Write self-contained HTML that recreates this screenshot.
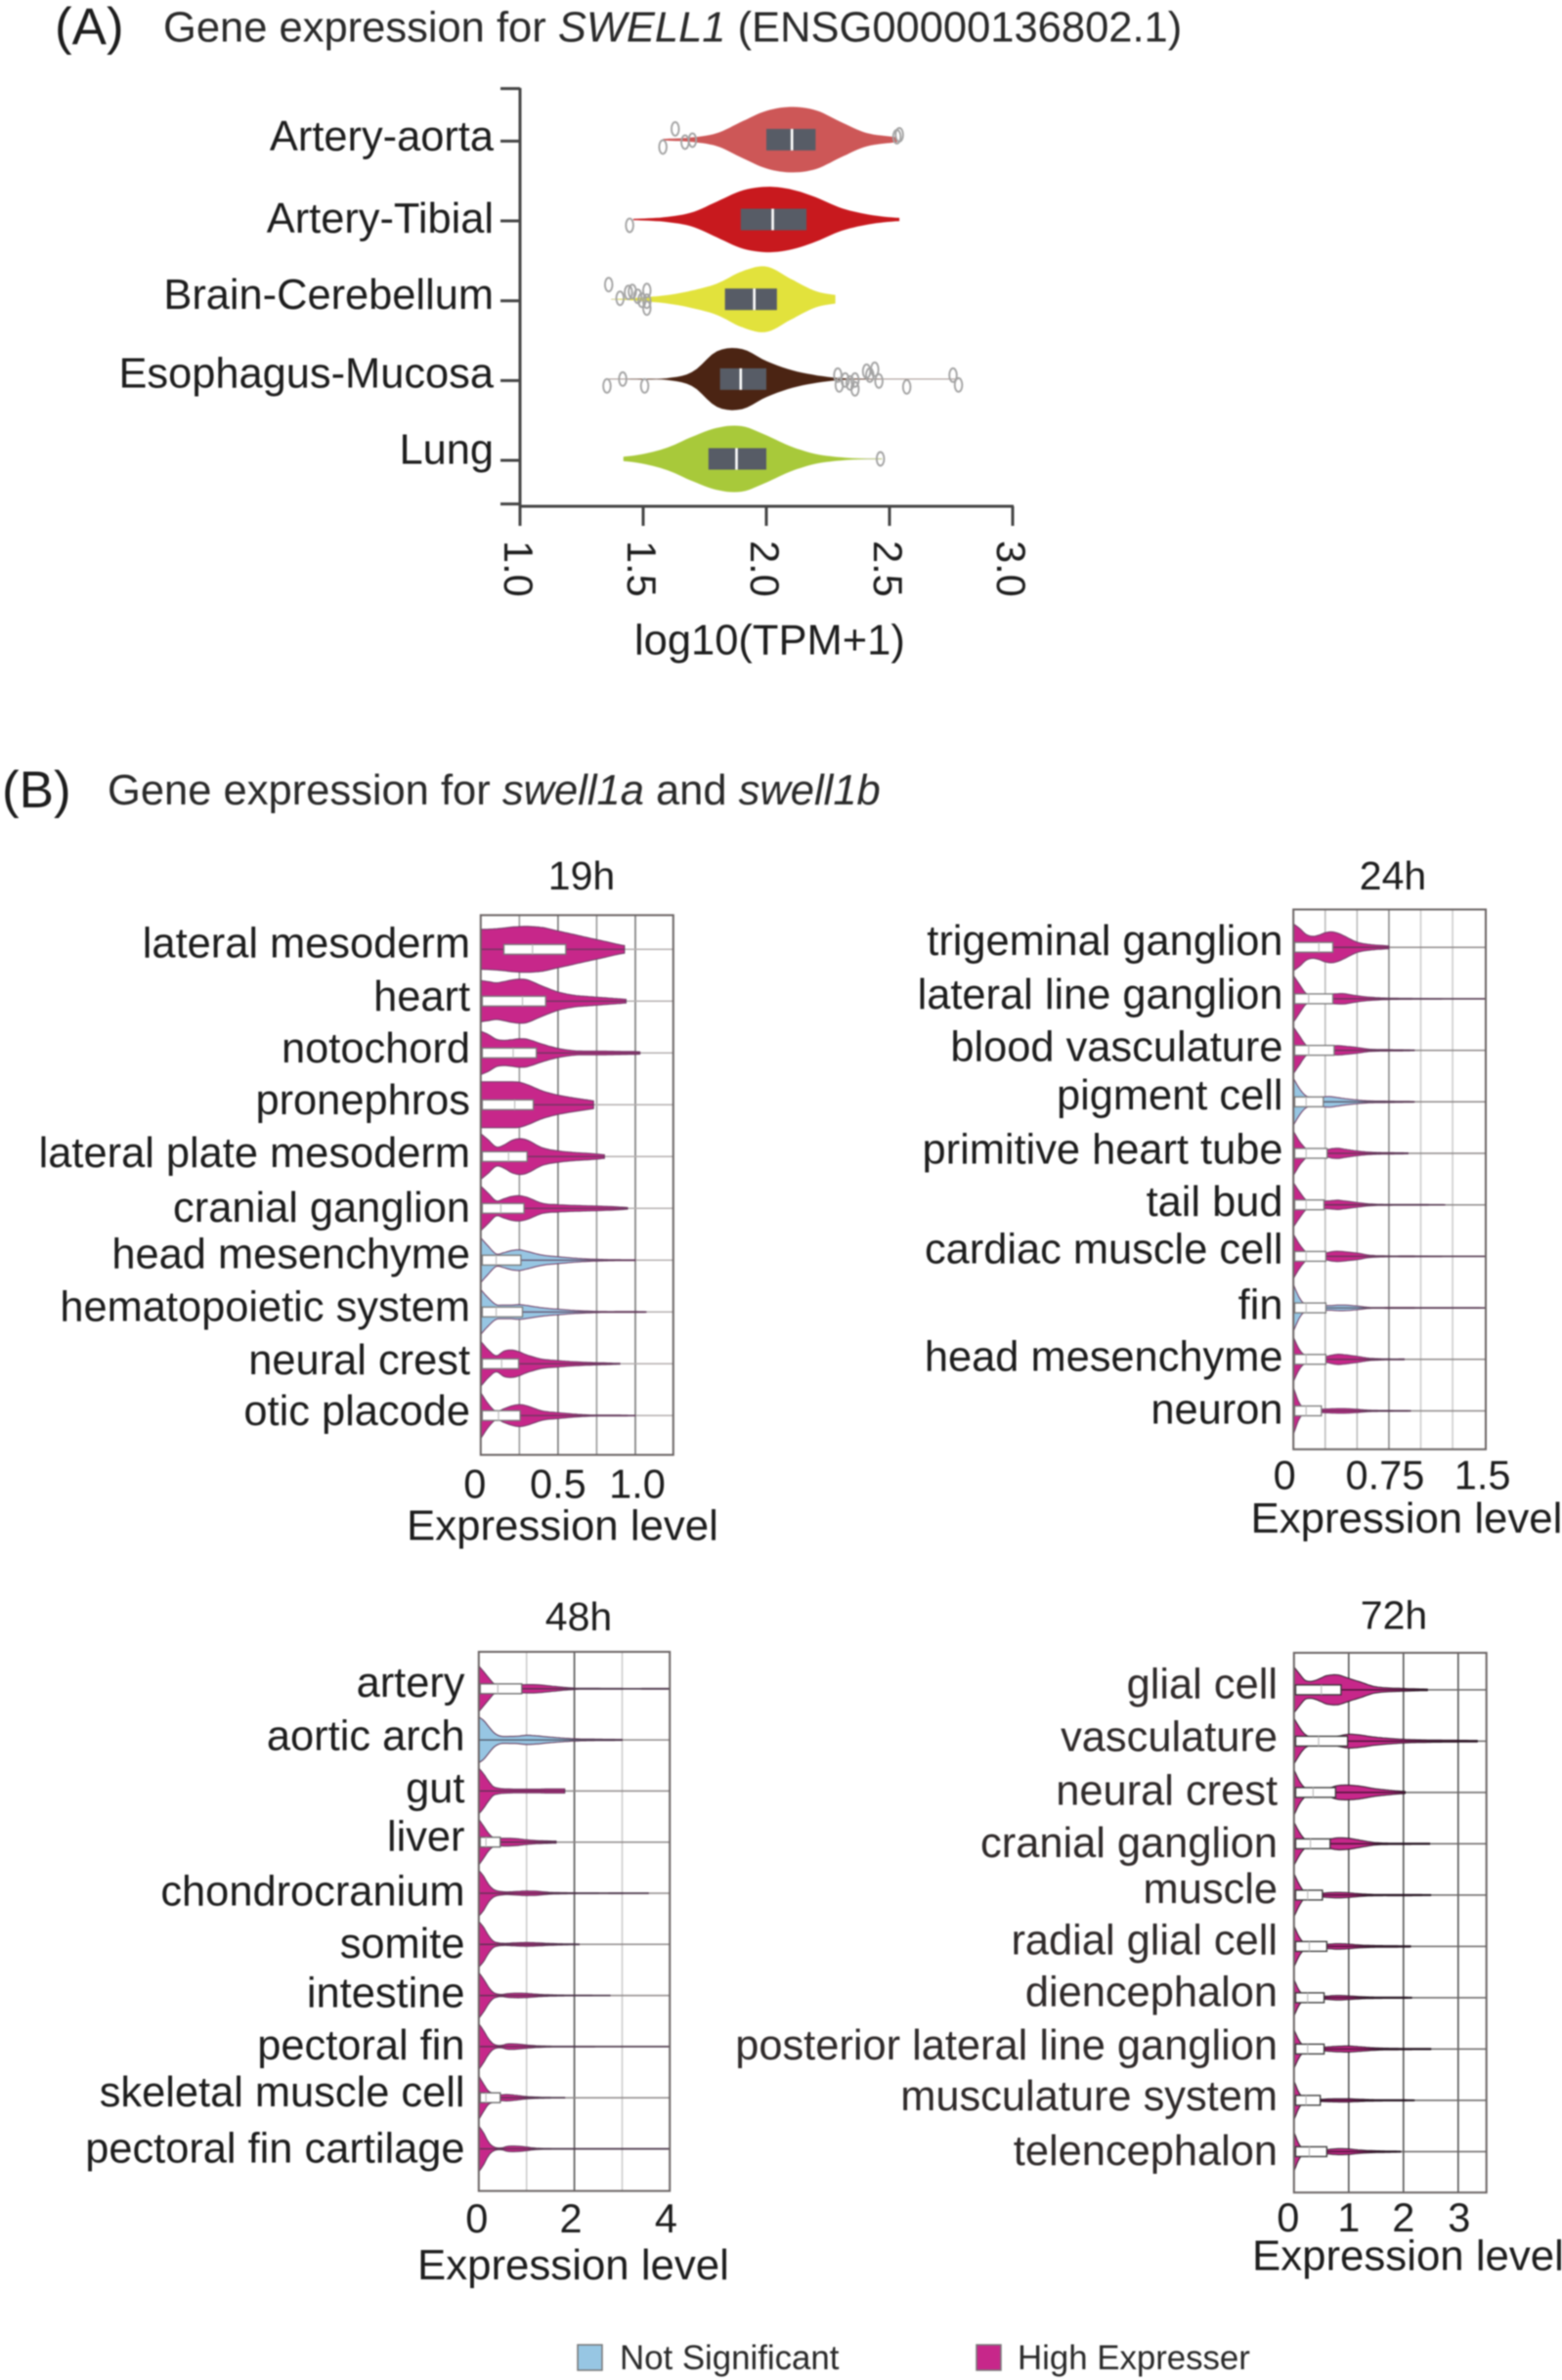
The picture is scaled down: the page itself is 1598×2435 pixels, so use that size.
<!DOCTYPE html>
<html lang="en">
<head>
<meta charset="utf-8">
<title>Gene expression for SWELL1, swell1a and swell1b</title>
<style>
html,body{margin:0;padding:0;background:#fff;}
svg{display:block;filter:blur(.7px);}
text{font-family:"Liberation Sans",sans-serif;fill:#1d1d1d;}
.head{font-size:43.5px;fill:#2a2a2a;}
.letter{font-size:53px;fill:#1d1d1d;}
.legend{font-size:34.8px;fill:#2a2a2a;}
</style>
</head>
<body>
<svg id="figure" xmlns="http://www.w3.org/2000/svg" width="1598" height="2435" viewBox="0 0 1598 2435">
  <rect width="1598" height="2435" fill="#fff"/>
  <text class="letter" x="56" y="45">(A)</text>
  <text class="head" x="167" y="42.5">Gene expression for <tspan font-style="italic">SWELL1</tspan> (ENSG00000136802.1)</text>
  <text class="letter" x="2" y="826">(B)</text>
  <text class="head" x="110" y="823">Gene expression for <tspan font-style="italic">swell1a</tspan> and <tspan font-style="italic">swell1b</tspan></text>
  <g id="panelA"></g>
  <g id="panel19"></g>
  <g id="panel24"></g>
  <g id="panel48"></g>
  <g id="panel72"></g>
  <g>
    <rect x="591" y="2399" width="25" height="26" fill="#97c6e3" stroke="#777" stroke-width="1.5"/>
    <text class="legend" x="634" y="2424">Not Significant</text>
    <rect x="999" y="2399" width="25" height="26" fill="#c7278a" stroke="#777" stroke-width="1.5"/>
    <text class="legend" x="1041" y="2424">High Expresser</text>
  </g>
</svg>
<script>
/* ---------- Panel A data ---------- */
const aTissues = ["Artery-aorta","Artery-Tibial","Brain-Cerebellum","Esophagus-Mucosa","Lung"];
const aLevels = [1.3,1.4,1.5,1.6,1.7,1.8,1.9,2.0,2.1,2.2,2.3,2.4,2.5,2.6,2.7,2.8];
const aDensityAorta = [0,0,.01,.03,.07,.2,.55,.88,1,.9,.55,.22,.1,.05,0,0];
const aDensityTibial = [0,.01,.03,.08,.22,.55,.88,1,.92,.68,.36,.17,.07,.03,0,0];
const aDensityBrain = [.01,.01,.06,.13,.27,.48,.85,1,.62,.25,.11,.03,0,0,0,0];
const aDensityEsophagus = [.005,.005,.01,.03,.22,.85,.92,.55,.28,.12,.03,.01,.005,.005,.005,.005];
const aDensityLung = [0,.05,.15,.35,.68,.95,1,.72,.38,.15,.05,.01,.005,0,0,0];
const aMin = [1.58,1.46,1.37,1.35,1.42];
const aMax = [2.53,2.54,2.28,2.78,2.47];
const aQ1 = [2.0,1.896,1.832,1.812,1.765];
const aMedian = [2.104,2.026,1.951,1.896,1.879];
const aQ3 = [2.2,2.163,2.043,2.0,2.0];
const aTicks = [1.0,1.5,2.0,2.5,3.0];
const aTickLabels = ["1.0","1.5","2.0","2.5","3.0"];
const aOutAorta = [1.63,1.58,1.67,1.70,2.53,2.54];
const aOutTibial = [1.445];
const aOutBrain = [1.36,1.406,1.44,1.456,1.478,1.495,1.515,1.515,1.515];
const aOutEsophagus = [1.353,1.417,1.506,2.29,2.296,2.32,2.34,2.36,2.36,2.407,2.42,2.44,2.457,2.57,2.758,2.78];
const aOutLung = [2.463];

/* ---------- 19h data ---------- */
const cats19 = ["lateral mesoderm","heart","notochord","pronephros","lateral plate mesoderm","cranial ganglion","head mesenchyme","hematopoietic system","neural crest","otic placode"];
const status19 = ["high","high","high","high","high","high","ns","ns","high","high"];
const levels19 = [0,.05,.1,.15,.2,.25,.3,.4,.5,.6,.7,.8,.9,1.0,1.1];
const density19 = [
 [.87,.88,.9,.93,.97,.99,1,.95,.8,.65,.5,.35,.2,.1,0],
 [.9,.85,.8,.85,.92,.96,.93,.65,.4,.26,.2,.15,.1,.05,0],
 [.95,.8,.6,.55,.58,.62,.6,.38,.2,.1,.08,.08,.07,.06,.03],
 [1,1,1,1,1,.98,.88,.6,.42,.3,.2,.1,0,0,0],
 [1,.72,.42,.5,.7,.78,.72,.38,.25,.18,.14,.08,.02,.01,0],
 [.98,.65,.33,.42,.52,.55,.48,.22,.16,.13,.11,.09,.06,.01,0],
 [.98,.6,.27,.33,.42,.45,.38,.22,.15,.09,.05,.03,.02,.015,.01],
 [.98,.6,.32,.3,.3,.32,.28,.18,.12,.07,.04,.02,.02,.02,.01],
 [.98,.6,.35,.55,.6,.52,.38,.2,.14,.09,.06,.04,.02,.01,0],
 [1,.5,.18,.3,.42,.48,.42,.2,.13,.07,.03,.02,.02,.01,.01]
];
const max19 = [.93,.94,1.03,.73,.8,.95,1.0,1.07,.9,1.0];
const q1_19 = [.15,.01,.01,.01,.01,.01,.01,.01,.01,.01];
const med19 = [.335,.27,.21,.22,.18,.13,.1,.1,.135,.115];
const q3_19 = [.55,.42,.36,.34,.30,.28,.26,.27,.245,.255];
const ticks19 = [0,.5,1.0];
const tickLabels19 = ["0","0.5","1.0"];
const grid19 = [.25,.5,.75,1.0];

/* ---------- 24h data ---------- */
const cats24 = ["trigeminal ganglion","lateral line ganglion","blood vasculature","pigment cell","primitive heart tube","tail bud","cardiac muscle cell","fin","head mesenchyme","neuron"];
const status24 = ["high","high","high","ns","high","high","high","ns","high","high"];
const levels24 = [0,.05,.1,.15,.2,.25,.3,.35,.4,.5,.6,.75,.9,1.05,1.2,1.5];
const density24 = [
 [1,.8,.55,.47,.52,.62,.66,.6,.48,.22,.12,.06,0,0,0,0],
 [1,.6,.22,.14,.14,.16,.2,.22,.22,.13,.07,.03,.02,.015,.01,.01],
 [1,.6,.22,.12,.12,.14,.18,.2,.18,.12,.05,.03,.02,0,0,0],
 [1,.55,.25,.2,.2,.22,.22,.18,.14,.08,.04,.03,.02,0,0,0],
 [.95,.5,.2,.12,.12,.14,.2,.22,.18,.1,.05,.03,.02,0,0,0],
 [.95,.55,.2,.12,.13,.16,.18,.2,.17,.1,.04,.02,.015,.015,.01,0],
 [.95,.5,.18,.12,.12,.14,.2,.22,.2,.14,.05,.02,.02,.015,.01,.01],
 [1,.4,.12,.1,.1,.1,.1,.12,.12,.08,.02,.02,.02,.015,.015,.01],
 [.95,.4,.15,.1,.1,.12,.18,.22,.2,.13,.05,.02,.02,.01,0,0],
 [1,.3,.08,.06,.07,.08,.09,.1,.1,.07,.03,.02,.015,0,0,0]
];
const max24 = [.75,1.5,.95,.95,.9,1.19,1.5,1.5,.87,.92];
const q1_24 = [.01,.01,.01,.01,.01,.01,.01,.01,.01,.01];
const med24 = [.2,.12,.12,.1,.1,.1,.1,.1,.1,.1];
const q3_24 = [.31,.31,.32,.235,.265,.24,.255,.255,.255,.22];
const ticks24 = [0,.75,1.5];
const tickLabels24 = ["0","0.75","1.5"];
const grid24 = [.25,.5,.75,1.0,1.25];

/* ---------- 48h data ---------- */
const cats48 = ["artery","aortic arch","gut","liver","chondrocranium","somite","intestine","pectoral fin","skeletal muscle cell","pectoral fin cartilage"];
const status48 = ["high","ns","high","high","high","high","high","high","high","high"];
const levels48 = [0,.1,.2,.3,.4,.5,.6,.8,1,1.2,1.5,2,2.5,3,3.5,4];
const density48 = [
 [1,.75,.5,.25,.12,.12,.15,.17,.18,.18,.12,.03,.02,.015,.015,.015],
 [1,.85,.6,.35,.2,.15,.15,.16,.2,.18,.12,.05,.03,.02,0,0],
 [1,.75,.45,.2,.13,.1,.09,.08,.08,.08,.09,.08,0,0,0,0],
 [1,.7,.4,.2,.15,.17,.17,.15,.1,.07,.05,.03,0,0,0,0],
 [1,.75,.4,.18,.1,.07,.06,.08,.1,.09,.04,.02,.015,.015,.01,.01],
 [1,.75,.4,.15,.07,.05,.05,.07,.08,.07,.04,.02,.015,0,0,0],
 [1,.72,.38,.14,.06,.05,.08,.1,.09,.06,.03,.015,.01,.01,0,0],
 [1,.7,.35,.12,.05,.06,.12,.11,.07,.04,.02,.015,.01,.01,.01,.01],
 [.95,.6,.3,.2,.12,.13,.14,.1,.05,.03,.015,.01,0,0,0,0],
 [1,.7,.3,.1,.04,.05,.11,.12,.08,.03,.015,.01,.01,.01,.01,.01]
];
const max48 = [4,3.0,1.8,1.62,3.55,2.1,2.75,4,1.8,4];
const q1_48 = [.03,null,null,.03,null,null,null,null,.03,null];
const med48 = [.4,null,null,.15,null,null,null,null,.15,null];
const q3_48 = [.9,null,null,.45,null,null,null,null,.45,null];
const ticks48 = [0,2,4];
const tickLabels48 = ["0","2","4"];
const grid48 = [1,2,3];

/* ---------- 72h data ---------- */
const cats72 = ["glial cell","vasculature","neural crest","cranial ganglion","muscle","radial glial cell","diencephalon","posterior lateral line ganglion","musculature system","telencephalon"];
const status72 = ["high","high","high","high","high","high","high","high","high","high"];
const levels72 = [0,.1,.2,.3,.4,.5,.6,.8,1,1.2,1.5,2,2.5,3,3.5];
const density72 = [
 [1,.7,.42,.37,.42,.52,.62,.65,.5,.35,.13,.06,.03,0,0],
 [1,.6,.3,.18,.12,.12,.14,.22,.3,.27,.17,.08,.05,.04,.03],
 [1,.5,.2,.1,.1,.12,.16,.3,.32,.28,.16,.05,.02,.01,.01],
 [.95,.5,.2,.1,.1,.12,.18,.26,.24,.16,.05,.03,.025,.01,.01],
 [.95,.45,.12,.08,.08,.08,.1,.12,.1,.06,.03,.03,.02,.01,.01],
 [.9,.4,.12,.08,.08,.08,.09,.12,.1,.06,.04,.03,.02,.01,.01],
 [.8,.3,.1,.06,.06,.06,.07,.1,.08,.05,.03,.025,.01,.01,.01],
 [.85,.35,.1,.06,.06,.07,.09,.12,.13,.1,.05,.03,.025,.01,.01],
 [.85,.3,.08,.05,.05,.05,.06,.07,.07,.05,.03,.025,.01,.01,.01],
 [.85,.3,.08,.05,.05,.06,.09,.13,.12,.07,.04,.02,.01,.01,.01]
];
const max72 = [2.44,3.35,2.03,2.48,2.5,2.13,2.15,2.5,2.2,1.95];
const q1_72 = [.03,.03,.03,.03,.03,.03,.03,.03,.03,.03];
const med72 = [.5,.45,.35,.3,.25,.28,.25,.25,.22,.28];
const q3_72 = [.86,.98,.76,.66,.52,.6,.55,.55,.48,.6];
const ticks72 = [0,1,2,3];
const tickLabels72 = ["0","1","2","3"];
const grid72 = [1,2,3];

/* ---------- Layout and style (not data) ---------- */
const SVGNS = "http://www.w3.org/2000/svg";
const MAGENTA = "#c7278a", BLUE = "#97c6e3";
const aFills = ["#cd5757","#c8191e","#e2e23c","#4b2413","#a8c93a"];
const aDensities = [aDensityAorta,aDensityTibial,aDensityBrain,aDensityEsophagus,aDensityLung];
const aOutliers = [aOutAorta,aOutTibial,aOutBrain,aOutEsophagus,aOutLung];
const aJitter = [[-11,7.5,2.5,.5,-3,-5],[6],[-15,-1,-7,-8,-3,1,-9,2,9],[7,0,7,-4,6,1,4,10,1,-8,-4,-10,2,8,-4,6],[0]];
const aLabelBase = [154,238,316,396.4,474.6];
const LABEL_SIZE = 43.4;

function mk(parent, tag, attrs, txt) {
  const el = document.createElementNS(SVGNS, tag);
  for (const k in attrs) el.setAttribute(k, attrs[k]);
  if (txt !== undefined) el.textContent = txt;
  parent.appendChild(el);
  return el;
}

/* cubic Hermite through the read density values */
function densityAt(levels, dens, v) {
  const n = levels.length;
  if (v <= levels[0]) return dens[0];
  if (v >= levels[n-1]) return dens[n-1];
  let i = 0;
  while (levels[i+1] < v) i++;
  const h = levels[i+1] - levels[i];
  const slope = j => {
    if (j <= 0) return (dens[1]-dens[0])/(levels[1]-levels[0]);
    if (j >= n-1) return (dens[n-1]-dens[n-2])/(levels[n-1]-levels[n-2]);
    return (dens[j+1]-dens[j-1])/(levels[j+1]-levels[j-1]);
  };
  const t = (v-levels[i])/h, t2 = t*t, t3 = t2*t;
  const d = (2*t3-3*t2+1)*dens[i] + (t3-2*t2+t)*h*slope(i) + (-2*t3+3*t2)*dens[i+1] + (t3-t2)*h*slope(i+1);
  return Math.max(0, d);
}

function violinPath(levels, dens, vmin, vmax, xScale, cy, halfMax) {
  const steps = 70, top = [], bottom = [];
  for (let s = 0; s <= steps; s++) {
    const v = vmin + (vmax-vmin)*s/steps;
    const w = densityAt(levels, dens, v)*halfMax;
    const x = xScale(v).toFixed(1);
    top.push(x+" "+(cy-w).toFixed(1));
    bottom.unshift(x+" "+(cy+w).toFixed(1));
  }
  return "M"+top.join("L")+"L"+bottom.join("L")+"Z";
}

/* ---------- Panel A ---------- */
(function () {
  const g = document.getElementById("panelA");
  const xA = v => 532 + (v-1)*252;
  const yA = i => 142.9 + 81.65*i;
  const yAxis = mk(g,"line",{x1:532,x2:532,y1:90,y2:519,stroke:"#444","stroke-width":3});
  
  
  const xAxis = mk(g,"line",{x1:531,x2:1037,y1:518,y2:518,stroke:"#444","stroke-width":3});
  
  
  [90.6,515.6].forEach(function (y) {
    const cap = mk(g,"line",{x1:512,x2:532,y1:y,y2:y,stroke:"#444","stroke-width":3});
    
    
  });
  aTicks.forEach(function (v,i) {
    const t = mk(g,"line",{x1:xA(v),x2:xA(v),y1:518,y2:538,stroke:"#444","stroke-width":3});
    
    
    const lab = mk(g,"text",{transform:"translate("+(xA(v)-16)+",553) rotate(90)","font-size":41.5},aTickLabels[i]);
    
    
  });
  const xt = mk(g,"text",{x:649,y:669.5,"font-size":43.5},"log10(TPM+1)");
  
  
  aTissues.forEach(function (name,i) {
    const cy = yA(i);
    const tick = mk(g,"line",{x1:512,x2:532,y1:cy+1.5,y2:cy+1.5,stroke:"#444","stroke-width":3});
    
    
    const lab = mk(g,"text",{x:505,y:aLabelBase[i],"text-anchor":"end","font-size":LABEL_SIZE},name);
    
    
    const tail = mk(g,"line",{x1:xA(aMin[i]),x2:xA(aMax[i]),y1:cy,y2:cy,stroke:"#cfc8c8","stroke-width":1.2});
    
    
    const vio = mk(g,"path",{d:violinPath(aLevels,aDensities[i],aMin[i],aMax[i],xA,cy,33.5),fill:aFills[i]});
    
    
    const box = mk(g,"rect",{x:xA(aQ1[i]),y:cy-11,width:xA(aQ3[i])-xA(aQ1[i]),height:22,fill:"#575c66"});
    
    
    const med = mk(g,"line",{x1:xA(aMedian[i]),x2:xA(aMedian[i]),y1:cy-11,y2:cy+11,stroke:"#fff","stroke-width":2.6});
    
    
    aOutliers[i].forEach(function (v,k) {
      const o = mk(g,"ellipse",{cx:xA(v),cy:cy+aJitter[i][k],rx:3.8,ry:7,fill:"none",stroke:"#a3a3a3","stroke-width":1.9});
      
      
    });
  });
})();

/* ---------- Panel B ---------- */
function drawStage(p) {
  const g = document.getElementById(p.id);
  const x = v => p.left + v*p.unit;
  const y = i => p.first + p.step*i;
  p.grid.forEach(function (v,i) {
    const gl = mk(g,"line",{x1:x(v),x2:x(v),y1:p.top,y2:p.bottom,stroke:p.gridColors[i],"stroke-width":1.6});
    
    
  });
  p.cats.forEach(function (name,i) {
    const cy = y(i);
    const hl = mk(g,"line",{x1:p.left,x2:p.right,y1:cy,y2:cy,stroke:p.rowLine,"stroke-width":1.5});
    
    
    const fill = p.status[i] === "ns" ? BLUE : MAGENTA;
    const vio = mk(g,"path",{d:violinPath(p.levels,p.density[i],0,Math.min(p.max[i],p.levels[p.levels.length-1]),x,cy,p.half),fill:fill,stroke:p.outline,"stroke-width":1,"stroke-linejoin":"round"});
    
    
    const mid = mk(g,"line",{x1:p.left,x2:x(p.max[i]),y1:cy,y2:cy,stroke:p.midLine,"stroke-width":1.3,"stroke-opacity":.8});
    
    
    if (p.q3[i] !== null) {
      const box = mk(g,"rect",{x:x(p.q1[i]),y:cy-5,width:x(p.q3[i])-x(p.q1[i]),height:10,fill:"#fff",stroke:p.boxStroke,"stroke-width":1.3});
      
      
      const med = mk(g,"line",{x1:x(p.med[i]),x2:x(p.med[i]),y1:cy-5,y2:cy+5,stroke:"#bbb","stroke-width":1.2});
      
      
    }
    const lab = mk(g,"text",{x:p.labelRight,y:p.labelBase[i],"text-anchor":"end","font-size":LABEL_SIZE,style:"fill:"+p.textColor},name);
    
    
  });
  const frame = mk(g,"rect",{x:p.left,y:p.top,width:p.right-p.left,height:p.bottom-p.top,fill:"none",stroke:"#6b6464","stroke-width":2});
  
  
  p.ticks.forEach(function (v,i) {
    const t = mk(g,"text",{x:x(v)+p.tickNudge[i],y:p.tickBase,"text-anchor":"middle","font-size":41.5},p.tickLabels[i]);
    
    
  });
  const title = mk(g,"text",{x:p.titleX,y:p.titleBase,"text-anchor":"middle","font-size":41},p.title);
  
  
  const xt = mk(g,"text",{x:p.xTitleX,y:p.xTitleBase,"font-size":43.8},"Expression level");
  
  
}

drawStage({id:"panel19",title:"19h",cats:cats19,status:status19,levels:levels19,density:density19,max:max19,q1:q1_19,med:med19,q3:q3_19,ticks:ticks19,tickLabels:tickLabels19,grid:grid19,
  left:491.8,right:688.8,top:936.3,bottom:1488.5,unit:158.2,first:971.3,step:53,half:23.5,
  gridColors:["#9a9a9a","#777","#9a9a9a","#777"],rowLine:"#b5b0b0",outline:"#6d3a63",midLine:"#5a3a55",boxStroke:"#777",textColor:"#1d1d1d",
  labelRight:481,labelBase:[979.7,1034,1086.9,1140.2,1194,1250,1297.7,1351.5,1405.9,1458.2],
  tickBase:1532.5,tickNudge:[-6,0,2],titleX:595,titleBase:910,xTitleX:416,xTitleBase:1575.5});

drawStage({id:"panel24",title:"24h",cats:cats24,status:status24,levels:levels24,density:density24,max:max24,q1:q1_24,med:med24,q3:q3_24,ticks:ticks24,tickLabels:tickLabels24,grid:grid24,
  left:1323.2,right:1520,top:930.5,bottom:1482.8,unit:130.3,first:969.2,step:52.7,half:24,
  gridColors:["#bbb","#bbb","#888","#ccc","#ccc"],rowLine:"#8f8a8a",outline:"#6d3a63",midLine:"#4a3a48",boxStroke:"#777",textColor:"#1d1d1d",
  labelRight:1312.5,labelBase:[977,1032,1085.3,1135,1190.4,1243.8,1292.4,1349.4,1402.3,1456.7],
  tickBase:1523.6,tickNudge:[-9,-4,-2],titleX:1425,titleBase:910,xTitleX:1279.5,xTitleBase:1568});

drawStage({id:"panel48",title:"48h",cats:cats48,status:status48,levels:levels48,density:density48,max:max48,q1:q1_48,med:med48,q3:q3_48,ticks:ticks48,tickLabels:tickLabels48,grid:grid48,
  left:489.8,right:685.2,top:1690,bottom:2241.6,unit:48.9,first:1727.8,step:52.3,half:23.5,
  gridColors:["#ccc","#555","#ccc"],rowLine:"#8f8a8a",outline:"#5a3052",midLine:"#3d3340",boxStroke:"#666",textColor:"#1d1d1d",
  labelRight:475.5,labelBase:[1735.8,1790.6,1843.9,1893.4,1949.3,2003,2053.7,2106.9,2154.8,2212.4],
  tickBase:2284,tickNudge:[-2,-3.6,-4],titleX:592,titleBase:1668,xTitleX:427,xTitleBase:2332});

drawStage({id:"panel72",title:"72h",cats:cats72,status:status72,levels:levels72,density:density72,max:max72,q1:q1_72,med:med72,q3:q3_72,ticks:ticks72,tickLabels:tickLabels72,grid:grid72,
  left:1323.8,right:1520.7,top:1691,bottom:2243.2,unit:56,first:1728.9,step:52.5,half:23.5,
  gridColors:["#555","#555","#555"],rowLine:"#6a6666",outline:"#2d1a28",midLine:"#150f14",boxStroke:"#333",textColor:"#2f2a2a",
  labelRight:1307,labelBase:[1737.4,1791.7,1846.5,1899.8,1947.2,1999.4,2052.6,2106.9,2159,2215],
  tickBase:2283,tickNudge:[-6,0,0,1],titleX:1426,titleBase:1666.6,xTitleX:1281,xTitleBase:2322.6});
</script>
</body>
</html>
